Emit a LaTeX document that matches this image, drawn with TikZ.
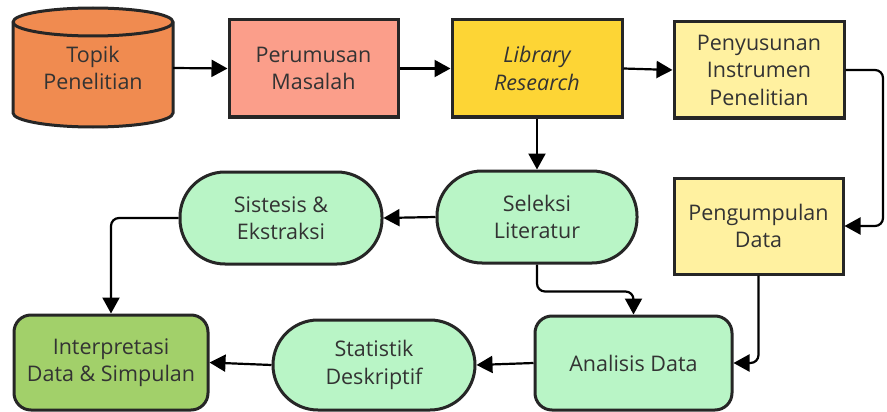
\documentclass[tikz,border=0pt]{standalone}
\usepackage{fontspec}
\setmainfont{Open Sans}
\usetikzlibrary{arrows.meta}
\definecolor{bord}{HTML}{262626}
\definecolor{txt}{HTML}{333333}
\definecolor{cOrange}{HTML}{F08B50}
\definecolor{cSalmon}{HTML}{FB9E8A}
\definecolor{cGold}{HTML}{FDD535}
\definecolor{cPale}{HTML}{FFF1A0}
\definecolor{cMint}{HTML}{B9F5C6}
\definecolor{cLeaf}{HTML}{A2D06A}
\tikzset{
  base/.style={draw=bord, line width=3pt, text=txt, align=center, inner sep=0pt,
    font=\fontsize{21.5}{27.5}\selectfont},
  boxnode/.style={base, rectangle},
  pill/.style={base, rectangle, rounded corners=45pt},
  rbox/.style={base, rectangle, rounded corners=17pt},
  conn/.style={draw=black, line width=2.2pt, rounded corners=8pt,
    -{Triangle[length=16pt,width=17pt]}},
}
\begin{document}
\begin{tikzpicture}[x=1pt,y=1pt]
\useasboundingbox (0,0) rectangle (887,-412);
% cylinder
\draw[draw=bord, fill=cOrange, line width=3pt]
  (13,-22) -- (13,-113) arc(180:360:80 and 14) -- (173,-22) arc(0:180:80 and 14) -- cycle;
\draw[draw=bord, line width=3pt] (13,-22) arc(180:360:80 and 14);
\node[text=txt, align=center, font=\fontsize{21.5}{27.5}\selectfont, minimum width=160pt, minimum height=92pt, inner sep=0pt] (topik) at (93,-68) {\raisebox{-10pt}{\parbox{150pt}{\centering Topik\\Penelitian}}};

\node[boxnode, fill=cSalmon, minimum width=169pt, minimum height=97pt] (perumusan) at (313.5,-68.5) {Perumusan\\Masalah};
\node[boxnode, fill=cGold, minimum width=170pt, minimum height=97pt] (library) at (537,-68.5) {\itshape Library\\\itshape Research};
\node[boxnode, fill=cPale, minimum width=170pt, minimum height=96pt] (penyusunan) at (759,-70) {Penyusunan\\Instrumen\\Penelitian};
\node[boxnode, fill=cPale, minimum width=169pt, minimum height=96pt] (pengumpulan) at (758.5,-226) {Pengumpulan\\Data};
\node[pill, fill=cMint, minimum width=200pt, minimum height=92pt] (seleksi) at (537,-217) {Seleksi\\Literatur};
\node[pill, fill=cMint, minimum width=202pt, minimum height=92pt] (sistesis) at (281,-218) {Sistesis \&\\Ekstraksi};
\node[rbox, fill=cMint, minimum width=197pt, minimum height=94pt] (analisis) at (633.5,-363) {Analisis Data};
\node[pill, fill=cMint, minimum width=202pt, minimum height=90pt] (statistik) at (374,-365) {Statistik\\Deskriptif};
\node[rbox, fill=cLeaf, minimum width=194pt, minimum height=95pt] (interpretasi) at (111,-362.5) {Interpretasi\\Data \& Simpulan};

\draw[conn] (topik.east) -- (perumusan.west);
\draw[conn] (perumusan.east) -- (library.west);
\draw[conn] (library.east) -- (penyusunan.west);
\draw[conn] (penyusunan.east) -- (883,-70) |- (pengumpulan.east);
\draw[conn] (library.south) -- (seleksi.north);
\draw[conn] (seleksi.west) -- (sistesis.east);
\draw[conn] (seleksi.south) -- ++(0,-27) -| (analisis.north);
\draw[conn] (pengumpulan.south) |- (analisis.east);
\draw[conn] (analisis.west) -- (statistik.east);
\draw[conn] (statistik.west) -- (interpretasi.east);
\draw[conn] (sistesis.west) -| (interpretasi.north);
\end{tikzpicture}
\end{document}
